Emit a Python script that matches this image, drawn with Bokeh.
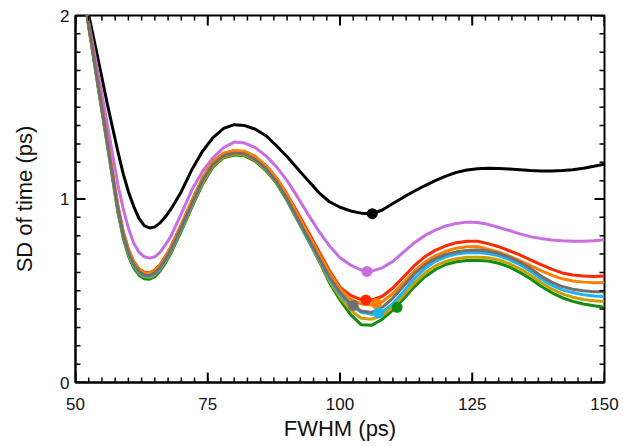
import math
from bokeh.plotting import figure
from bokeh.models import Range1d, SingleIntervalTicker
from bokeh.embed import file_html
from bokeh.resources import INLINE

fwhm = [50, 52, 54, 56, 58,
        59, 60, 61, 62, 63, 64, 65, 66, 67, 68,
        70, 72, 74, 76, 78, 80, 82, 84, 86, 88,
        90, 92, 94, 96, 98, 100, 102, 104, 106, 108,
        110, 112, 114, 116, 118, 120, 122, 124, 126, 128,
        130, 132, 134, 136, 138, 140, 142, 144, 146, 148,
        150]

sd_black = [2.40, 2.07, 1.80, 1.52, 1.26,
            1.14, 1.04, 0.96, 0.895, 0.855, 0.842, 0.848, 0.87, 0.903, 0.943,
            1.04, 1.16, 1.26, 1.335, 1.385, 1.405, 1.40, 1.38, 1.345, 1.29,
            1.23, 1.165, 1.10, 1.035, 0.985, 0.955, 0.935, 0.923, 0.92, 0.94,
            0.975, 1.01, 1.042, 1.072, 1.10, 1.125, 1.145, 1.158, 1.165, 1.167,
            1.166, 1.164, 1.16, 1.155, 1.152, 1.152, 1.155, 1.16, 1.168, 1.178,
            1.19]

sd_violet = [2.36, 2.04, 1.73, 1.41, 1.08,
             0.95, 0.84, 0.76, 0.71, 0.685, 0.678, 0.685, 0.71, 0.75, 0.795,
             0.92, 1.05, 1.15, 1.225, 1.28, 1.31, 1.305, 1.28, 1.235, 1.175,
             1.10, 1.01, 0.915, 0.825, 0.745, 0.68, 0.64, 0.613, 0.607, 0.625,
             0.66, 0.71, 0.76, 0.80, 0.83, 0.853, 0.867, 0.874, 0.872, 0.862,
             0.845, 0.828, 0.81, 0.795, 0.785, 0.777, 0.772, 0.77, 0.77, 0.773,
             0.778]

sd_red = [2.40, 2.04, 1.675, 1.32, 0.965,
          0.825, 0.725, 0.66, 0.62, 0.601, 0.598, 0.612, 0.643, 0.687, 0.737,
          0.86, 0.99, 1.113, 1.203, 1.248, 1.262, 1.258, 1.23, 1.182, 1.115,
          1.025, 0.925, 0.82, 0.715, 0.61, 0.52, 0.475, 0.452, 0.45, 0.47,
          0.515, 0.575, 0.635, 0.685, 0.72, 0.745, 0.762, 0.77, 0.77, 0.757,
          0.74, 0.718, 0.695, 0.668, 0.642, 0.618, 0.597, 0.586, 0.58, 0.578,
          0.58]

sd_orange = [2.40, 2.04, 1.675, 1.318, 0.962,
             0.822, 0.722, 0.657, 0.617, 0.598, 0.595, 0.609, 0.64, 0.685, 0.735,
             0.86, 0.99, 1.115, 1.205, 1.25, 1.265, 1.26, 1.232, 1.182, 1.113,
             1.02, 0.915, 0.808, 0.703, 0.6, 0.51, 0.455, 0.428, 0.422, 0.44,
             0.485, 0.545, 0.605, 0.655, 0.69, 0.715, 0.732, 0.74, 0.741, 0.727,
             0.71, 0.688, 0.664, 0.637, 0.61, 0.585, 0.565, 0.553, 0.547, 0.544,
             0.545]

sd_gray = [2.40, 2.04, 1.67, 1.31, 0.95,
           0.81, 0.71, 0.645, 0.605, 0.586, 0.583, 0.597, 0.628, 0.672, 0.722,
           0.845, 0.975, 1.10, 1.19, 1.235, 1.25, 1.245, 1.215, 1.165, 1.095,
           1.0, 0.893, 0.786, 0.68, 0.575, 0.49, 0.43, 0.39, 0.382, 0.41,
           0.46, 0.525, 0.59, 0.64, 0.675, 0.698, 0.712, 0.72, 0.722, 0.716,
           0.703, 0.683, 0.656, 0.622, 0.58, 0.547, 0.523, 0.508, 0.5, 0.495,
           0.494]

sd_cyan = [2.40, 2.04, 1.668, 1.308, 0.948,
           0.807, 0.706, 0.64, 0.6, 0.581, 0.578, 0.592, 0.623, 0.667, 0.717,
           0.84, 0.972, 1.10, 1.193, 1.24, 1.255, 1.25, 1.22, 1.168, 1.097,
           1.0, 0.89, 0.78, 0.675, 0.565, 0.48, 0.42, 0.383, 0.372, 0.385,
           0.43, 0.495, 0.565, 0.62, 0.66, 0.685, 0.70, 0.707, 0.708, 0.703,
           0.69, 0.67, 0.642, 0.607, 0.565, 0.53, 0.505, 0.49, 0.478, 0.472,
           0.469]

sd_gold = [2.40, 2.035, 1.665, 1.302, 0.94,
           0.80, 0.70, 0.635, 0.595, 0.576, 0.573, 0.587, 0.618, 0.662, 0.712,
           0.835, 0.965, 1.09, 1.183, 1.23, 1.245, 1.24, 1.21, 1.16, 1.09,
           0.995, 0.888, 0.78, 0.67, 0.555, 0.465, 0.395, 0.35, 0.345, 0.365,
           0.41, 0.475, 0.54, 0.595, 0.635, 0.66, 0.675, 0.682, 0.683, 0.68,
           0.668, 0.648, 0.62, 0.585, 0.545, 0.51, 0.483, 0.465, 0.452, 0.445,
           0.441]

sd_green = [2.40, 2.03, 1.66, 1.295, 0.93,
            0.79, 0.69, 0.625, 0.585, 0.566, 0.563, 0.577, 0.608, 0.652, 0.702,
            0.825, 0.955, 1.08, 1.175, 1.225, 1.24, 1.235, 1.205, 1.155, 1.085,
            0.99, 0.882, 0.775, 0.665, 0.545, 0.45, 0.37, 0.315, 0.312, 0.345,
            0.395, 0.455, 0.52, 0.575, 0.615, 0.643, 0.658, 0.665, 0.665, 0.662,
            0.65, 0.63, 0.60, 0.565, 0.525, 0.49, 0.462, 0.442, 0.428, 0.418,
            0.41]

# marked points (one per curve, gold has none)
dot_x = [106.1, 105.1, 104.9, 106.9, 102.5, 107.3, 110.8]
dot_y = [0.92, 0.605, 0.45, 0.43, 0.42, 0.38, 0.41]
dot_color = ["#000000", "#C86EE1", "#FF2800", "#FF8000", "#707070", "#1EB4F0", "#108C10"]

# axis ticks
x_major = [50, 75, 100, 125, 150]
y_major = [0, 1, 2]
x_minor = [50 + 2.5 * i for i in range(41)]
y_minor = [0.1 * i for i in range(21)]

series = [
    (sd_black, "#000000"),
    (sd_violet, "#C86EE1"),
    (sd_green, "#108C10"),
    (sd_gold, "#C8A000"),
    (sd_cyan, "#1EB4F0"),
    (sd_red, "#FF2800"),
    (sd_orange, "#FF8000"),
    (sd_gray, "#707070"),
]

FONT = "Liberation Sans"
X0, X1, Y0, Y1 = 50, 150, 0, 2

p = figure(width=621, height=446, output_backend="svg", toolbar_location=None,
           x_range=Range1d(X0, X1), y_range=Range1d(Y0, Y1),
           min_border_left=75, min_border_right=17, min_border_top=15, min_border_bottom=64,
           x_axis_label="FWHM (ps)", y_axis_label="SD of time (ps)")
p.grid.visible = False
p.outline_line_color = "black"
p.outline_line_width = 2
p.background_fill_color = "white"
p.border_fill_color = "white"

for ys, col in series:
    p.line(fwhm, ys, line_color=col, line_width=3, line_join="round")

p.scatter(dot_x, dot_y, size=11, fill_color=dot_color, line_color=None)

# inward ticks on all four sides (screen-length rays)
def ticks(vals, length, width, horizontal):
    if horizontal:
        p.ray(x=vals, y=[Y0] * len(vals), length=length, length_units="screen",
              angle=math.pi / 2, line_color="black", line_width=width)
        p.ray(x=vals, y=[Y1] * len(vals), length=length, length_units="screen",
              angle=-math.pi / 2, line_color="black", line_width=width)
    else:
        p.ray(x=[X0] * len(vals), y=vals, length=length, length_units="screen",
              angle=0, line_color="black", line_width=width)
        p.ray(x=[X1] * len(vals), y=vals, length=length, length_units="screen",
              angle=math.pi, line_color="black", line_width=width)

ticks(x_minor, 5, 1.5, True)
ticks(x_major, 10, 2, True)
ticks(y_minor, 5, 1.5, False)
ticks(y_major, 10, 2, False)

p.xaxis.ticker = SingleIntervalTicker(interval=25, num_minor_ticks=0)
p.yaxis.ticker = SingleIntervalTicker(interval=1, num_minor_ticks=0)
for ax in list(p.xaxis) + list(p.yaxis):
    ax.axis_line_width = 2
    ax.axis_line_color = "black"
    ax.major_tick_in = 0
    ax.major_tick_out = 0
    ax.minor_tick_in = 0
    ax.minor_tick_out = 0
    ax.major_label_text_font = FONT
    ax.major_label_text_font_size = "17px"
    ax.major_label_text_color = "#111111"
    ax.axis_label_text_font = FONT
    ax.axis_label_text_font_size = "22px"
    ax.axis_label_text_font_style = "normal"
    ax.axis_label_text_color = "#111111"
for ax in p.xaxis:
    ax.major_label_standoff = 15
    ax.axis_label_standoff = 3
for ax in p.yaxis:
    ax.major_label_standoff = 6
    ax.axis_label_standoff = 20

open("out.html", "w").write(file_html(p, INLINE))
